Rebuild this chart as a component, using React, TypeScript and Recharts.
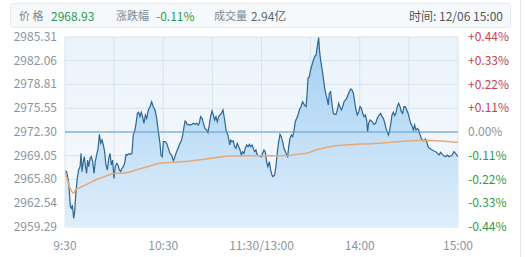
import {
    Area,
    ComposedChart,
    CartesianGrid,
    Line,
    ReferenceLine,
    XAxis,
    YAxis,
} from "recharts";

// minutes since 9:30 (trading minutes, 120 = 11:30/13:00)
const priceTimes = [
    0, 1, 2.2, 3.3, 3.9, 4.5, 5.3, 5.9, 6.7, 7.5, 8.3, 9.2, 9.8, 10.4, 11.2, 11.8, 12.4, 13.2, 13.8, 14.5,
    15.3, 16.1, 16.9, 17.7, 18.5, 19.3, 20.2, 21.0, 21.8, 22.6, 23.4, 24.2, 25.0, 25.9, 26.7, 27.5, 28.3, 29.1, 29.9, 30.7,
    31.6, 32.4, 33.2, 34.0, 34.8, 35.6, 36.4, 37.3, 38.1, 38.9, 39.9, 40.9, 41.7, 42.5, 43.4, 44.2, 45.0, 45.8, 46.6, 47.4,
    48.2, 49.1, 49.9, 50.9, 51.9, 52.9, 53.9, 55.0, 56.0, 57.0, 58.0, 58.6, 59.4, 60.1, 61.1, 62.1, 63.1, 64.1, 65.1, 66.2,
    66.8, 67.8, 68.6, 69.4, 70.2, 71.0, 71.9, 72.7, 73.3, 73.9, 74.7, 75.5, 76.3, 77.4, 78.4, 79.4, 80.4, 81.4, 82.0, 82.8,
    83.7, 84.5, 85.5, 86.5, 87.3, 88.1, 88.9, 89.8, 90.6, 91.4, 92.2, 93.0, 93.8, 94.6, 95.5, 96.5, 97.5, 98.5, 99.5, 100.6,
    101.2, 102.0, 102.8, 103.6, 104.4, 105.2, 106.1, 106.9, 107.7, 108.5, 109.3, 110.1, 110.9, 111.8, 112.6, 113.4, 114.2, 115.0, 115.8, 116.6,
    117.4, 118.3, 119.1, 119.9, 120.7, 121.5, 122.3, 123.1, 123.9, 124.8, 125.6, 126.4, 127.0, 128.0, 128.8, 129.7, 130.5, 131.3, 132.1, 132.9,
    133.7, 134.6, 135.4, 136.0, 136.6, 137.4, 138.2, 139.0, 139.8, 140.6, 141.5, 142.3, 143.1, 144.1, 145.1, 146.2, 147.2, 147.8, 148.4, 149.2,
    150.0, 150.8, 151.7, 152.5, 153.3, 153.9, 154.5, 154.9, 155.5, 156.1, 156.9, 157.8, 158.6, 159.4, 160.2, 160.8, 161.4, 162.2, 163.1, 163.9,
    164.7, 165.5, 166.3, 167.1, 167.9, 168.8, 169.6, 170.4, 171.2, 172.0, 172.8, 173.6, 174.5, 175.3, 176.1, 176.9, 177.7, 178.5, 179.4, 180.2,
    181.0, 181.8, 182.6, 183.4, 184.2, 184.8, 185.4, 186.3, 187.1, 187.9, 188.7, 189.7, 190.7, 191.8, 192.8, 193.6, 194.4, 195.2, 196.0, 196.8,
    197.5, 198.1, 198.9, 199.7, 200.5, 201.3, 202.1, 202.9, 203.8, 204.6, 205.4, 206.2, 207.0, 207.8, 208.7, 209.5, 210.3, 211.1, 211.9, 212.7,
    213.5, 214.3, 215.2, 216.0, 216.8, 217.6, 218.4, 219.2, 220.1, 220.9, 221.7, 222.5, 223.3, 224.3, 225.3, 226.4, 227.4, 228.4, 229.4, 230.4,
    231.4, 232.5, 233.5, 234.5, 235.5, 236.5, 237.5, 238.5, 239.5, 240,
];

const priceValues = [
    2966.96, 2966.87, 2965.50, 2962.07, 2961.85, 2962.30, 2960.48, 2961.39, 2964.13, 2965.95, 2967.09, 2967.55, 2969.38, 2966.87, 2968.24, 2968.92, 2967.78, 2966.64, 2968.46, 2967.55,
    2968.69, 2968.92, 2968.24, 2966.64, 2968.24, 2969.15, 2970.06, 2971.98, 2970.75, 2971.20, 2970.52, 2969.61, 2967.78, 2967.09, 2968.69, 2969.38, 2967.78, 2968.46, 2965.95, 2967.55,
    2968.01, 2967.78, 2967.09, 2966.87, 2967.32, 2967.55, 2968.01, 2969.24, 2969.15, 2969.29, 2969.24, 2969.38, 2971.89, 2972.35, 2973.49, 2974.86, 2975.00, 2974.40, 2975.00, 2974.40,
    2973.49, 2974.63, 2974.17, 2975.31, 2975.77, 2976.45, 2975.77, 2975.31, 2974.17, 2972.35, 2970.75, 2969.15, 2968.92, 2970.98, 2970.98, 2970.75, 2970.06, 2969.38, 2969.15, 2968.33,
    2968.69, 2969.38, 2969.83, 2970.29, 2970.75, 2971.07, 2971.89, 2973.03, 2973.81, 2973.71, 2973.26, 2973.35, 2973.26, 2973.35, 2973.49, 2973.35, 2973.49, 2973.26, 2973.49, 2974.40,
    2974.17, 2973.49, 2972.80, 2972.57, 2972.21, 2973.26, 2974.40, 2975.18, 2974.63, 2973.94, 2974.40, 2973.71, 2974.40, 2974.63, 2974.86, 2975.31, 2973.94, 2972.35, 2971.89, 2970.52,
    2971.20, 2970.98, 2971.07, 2970.29, 2970.06, 2970.75, 2970.29, 2969.83, 2969.15, 2969.61, 2969.38, 2970.06, 2970.52, 2970.29, 2970.61, 2970.29, 2970.52, 2970.06, 2969.61, 2969.83,
    2969.15, 2969.06, 2969.06, 2968.92, 2969.38, 2969.83, 2969.61, 2968.24, 2967.55, 2968.24, 2967.09, 2966.41, 2966.18, 2966.41, 2967.55, 2969.61, 2970.98, 2971.98, 2971.66, 2970.98,
    2970.06, 2969.61, 2969.15, 2968.92, 2970.29, 2971.43, 2971.89, 2971.66, 2972.35, 2973.71, 2974.17, 2974.63, 2975.31, 2975.77, 2976.45, 2976.00, 2975.77, 2977.37, 2979.65, 2979.88,
    2980.79, 2981.48, 2982.16, 2982.62, 2982.85, 2983.76, 2984.67, 2985.22, 2983.30, 2982.16, 2981.02, 2979.65, 2978.28, 2977.37, 2976.68, 2976.00, 2977.60, 2977.82, 2976.00, 2974.86,
    2974.72, 2974.72, 2975.31, 2976.23, 2975.77, 2975.31, 2975.77, 2976.45, 2976.68, 2976.91, 2977.37, 2977.82, 2978.19, 2978.05, 2977.60, 2976.45, 2975.31, 2974.63, 2975.08, 2975.77,
    2975.54, 2974.86, 2974.40, 2974.63, 2973.94, 2972.35, 2973.49, 2973.94, 2973.81, 2973.62, 2973.35, 2973.49, 2974.17, 2974.63, 2974.86, 2974.40, 2974.17, 2973.62, 2972.80, 2972.35,
    2971.89, 2972.35, 2973.35, 2974.63, 2975.00, 2974.54, 2974.86, 2975.77, 2976.23, 2975.77, 2975.08, 2974.86, 2975.77, 2975.77, 2975.31, 2974.86, 2974.17, 2973.49, 2973.17, 2972.57,
    2973.26, 2972.57, 2972.80, 2972.57, 2971.89, 2971.43, 2971.20, 2971.07, 2971.34, 2970.98, 2970.29, 2970.06, 2969.97, 2969.83, 2969.70, 2969.61, 2969.38, 2969.15, 2969.51, 2969.24,
    2969.06, 2968.92, 2969.15, 2968.92, 2969.01, 2969.15, 2969.61, 2969.38, 2969.06, 2968.93,
];

const avgTimes = [0, 5.3, 6.3, 10.4, 14.5, 18.5, 22.6, 26.7, 30.7, 34.8, 38.9, 43.0, 48.2, 51.9, 58.0, 66.2, 76.3, 86.5, 95.9, 103.6, 113.8, 124.0, 134.1, 143.5, 147.2, 153.3, 161.4, 171.6, 181.8, 191.1, 198.9, 209.1, 219.2, 229.4, 240];
const avgValues = [2966.96, 2963.90, 2964.36, 2964.81, 2965.27, 2965.73, 2966.05, 2966.41, 2966.64, 2966.64, 2966.78, 2967.09, 2967.41, 2967.64, 2968.01, 2968.15, 2968.33, 2968.60, 2968.92, 2969.01, 2969.06, 2969.06, 2969.06, 2969.29, 2969.38, 2969.83, 2970.29, 2970.52, 2970.66, 2970.75, 2970.88, 2971.07, 2971.16, 2971.07, 2970.88];

const priceTicks = [2985.31, 2982.06, 2978.81, 2975.55, 2972.30, 2969.05, 2965.80, 2962.54, 2959.29];
const pctTicks = [0.44, 0.33, 0.22, 0.11, 0, -0.11, -0.22, -0.33, -0.44];
const timeTicks = [0, 30, 60, 90, 120, 150, 180, 210, 240];
const timeLabels = ["9:30", "", "10:30", "", "11:30/13:00", "", "14:00", "", "15:00"];
const prevClose = 2972.30;

const FONT = '"Noto Sans CJK SC", "Noto Sans", sans-serif';
const GREY = "#8a959f";

const priceData = priceTimes.map((t, i) => ({ t, price: priceValues[i] }));
const avgData = avgTimes.map((t, i) => ({ t, avg: avgValues[i] }));

function LeftTick({ x, y, payload }: any) {
    return (
        <text x={x} y={y} dy={4} textAnchor="end" fill={GREY} fontSize={12} fontFamily={FONT}>
            {payload.value.toFixed(2)}
        </text>
    );
}

function RightTick({ x, y, payload }: any) {
    const v = payload.value;
    const color = v > 0 ? "#c9414d" : v < 0 ? "#2e9a4c" : GREY;
    const label = v > 0 ? `+${v.toFixed(2)}%` : `${v.toFixed(2)}%`;
    return (
        <text x={x} y={y} dy={4} textAnchor="start" fill={color} fontSize={12} fontFamily={FONT}>
            {label}
        </text>
    );
}

function TimeTick({ x, y, index }: any) {
    return (
        <text x={x} y={y} dy={23} textAnchor="middle" fill={GREY} fontSize={12} fontFamily={FONT}>
            {timeLabels[index]}
        </text>
    );
}

const label = { color: "#7c8893", fontSize: 11 };
const green = { color: "#2e9a4c" };

export default function App() {
    return (
        <div style={{ position: "absolute", left: 0, top: 0, width: 526, height: 257, background: "#fff", fontFamily: FONT }}>
            <div
                style={{
                    position: "absolute", left: 10, top: 3, width: 499, height: 23,
                    background: "#f5f9fc", border: "1px solid #e3ebf2", borderRadius: 3,
                    fontSize: 12, lineHeight: "23px",
                }}
            >
                <span style={{ position: "absolute", left: 8, ...label }}>价 格</span>
                <span style={{ position: "absolute", left: 40, ...green }}>2968.93</span>
                <span style={{ position: "absolute", left: 105, ...label }}>涨跌幅</span>
                <span style={{ position: "absolute", left: 145, ...green }}>-0.11%</span>
                <span style={{ position: "absolute", left: 203, ...label }}>成交量</span>
                <span style={{ position: "absolute", left: 240, color: "#666" }}>2.94亿</span>
                <span style={{ position: "absolute", right: 7, color: "#555" }}>时间: 12/06 15:00</span>
            </div>
            <div style={{ position: "absolute", left: 520, top: 0, width: 1, height: 257, background: "#e3e8ee" }} />

            <ComposedChart
                width={526}
                height={257}
                margin={{ top: 37, right: 0, bottom: 0, left: 0 }}
                style={{ position: "absolute", left: 0, top: 0 }}
            >
                <defs>
                    <linearGradient id="plotBg" x1="0" y1="0" x2="0" y2="1">
                        <stop offset="0%" stopColor="#ebf3fb" />
                        <stop offset="100%" stopColor="#f6fafd" />
                    </linearGradient>
                    <linearGradient id="areaFill" x1="0" y1="0" x2="0" y2="1">
                        <stop offset="0%" stopColor="#a2cff3" />
                        <stop offset="100%" stopColor="#dfeefb" />
                    </linearGradient>
                </defs>
                <CartesianGrid yAxisId="price" stroke="#d8e3ed" fill="url(#plotBg)" fillOpacity={1} />
                <XAxis
                    dataKey="t"
                    type="number"
                    domain={[0, 240]}
                    ticks={timeTicks}
                    interval={0}
                    height={30}
                    axisLine={false}
                    tickLine={false}
                    tickSize={0}
                    tickMargin={0}
                    tick={<TimeTick />}
                    allowDataOverflow
                />
                <YAxis
                    yAxisId="price"
                    orientation="left"
                    width={65}
                    domain={[2959.29, 2985.31]}
                    ticks={priceTicks}
                    interval={0}
                    axisLine={false}
                    tickLine={false}
                    tickSize={0}
                    tickMargin={8}
                    tick={<LeftTick />}
                    allowDataOverflow
                />
                <YAxis
                    yAxisId="pct"
                    orientation="right"
                    width={68}
                    domain={[-0.44, 0.44]}
                    ticks={pctTicks}
                    interval={0}
                    axisLine={false}
                    tickLine={false}
                    tickSize={0}
                    tickMargin={10}
                    tick={<RightTick />}
                    allowDataOverflow
                />
                <Area
                    yAxisId="price"
                    data={priceData}
                    dataKey="price"
                    type="linear"
                    stroke="#2f668f"
                    strokeWidth={1.2}
                    fill="url(#areaFill)"
                    fillOpacity={1}
                    dot={false}
                    activeDot={false}
                    isAnimationActive={false}
                />
                <ReferenceLine yAxisId="price" y={prevClose} stroke="#5a9acb" strokeWidth={1} />
                <Line
                    yAxisId="price"
                    data={avgData}
                    dataKey="avg"
                    type="monotone"
                    stroke="#e6a974"
                    strokeWidth={1.5}
                    dot={false}
                    activeDot={false}
                    isAnimationActive={false}
                />
            </ComposedChart>
        </div>
    );
}
